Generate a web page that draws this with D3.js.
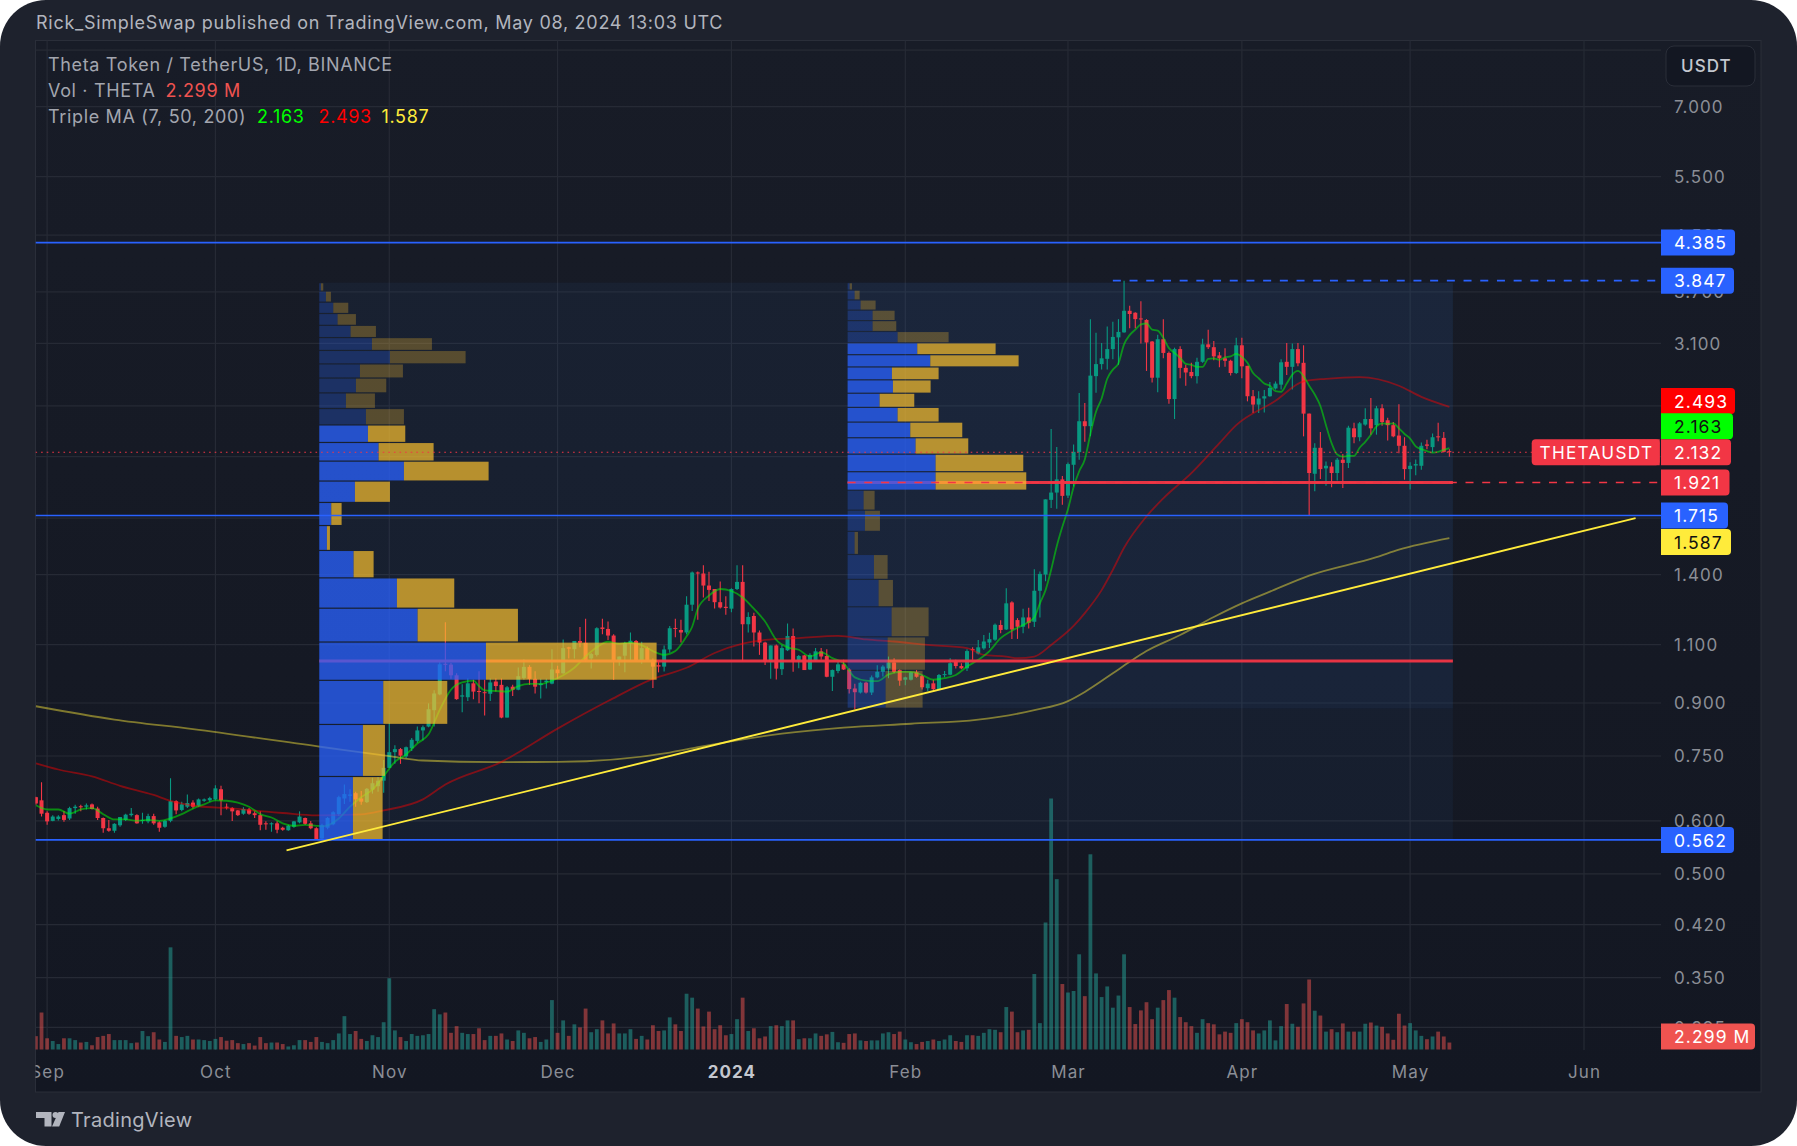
<!DOCTYPE html>
<html>
<head>
<meta charset="utf-8">
<script src="https://cdn.jsdelivr.net/npm/d3@7"></script>
<style>
  html, body { margin: 0; padding: 0; background: #fff; }
  svg { display: block; }
  text { font-family: Inter, "Noto Sans", sans-serif; }
</style>
</head>
<body>
<div id="my_dataviz"></div>
<script>
// Daily candles, first one is Aug 30 2023, last one May 08 2024
const opens = [
  .651,.644,.617,.600,.604,.612,.605,.627,.631,.630,
  .635,.626,.606,.585,.580,.591,.602,.612,.612,.600,
  .599,.610,.597,.588,.600,.642,.623,.630,.639,.632,
  .643,.644,.646,.669,.630,.627,.622,.615,.624,.616,
  .612,.595,.593,.595,.586,.581,.588,.597,.606,.595,
  .585,.565,.586,.593,.614,.648,.654,.660,.648,.640,
  .668,.676,.689,.720,.760,.768,.749,.770,.790,.819,
  .830,.878,.927,1.030,1.027,.990,.920,.918,.963,.938,
  .934,.929,.969,.958,.856,.952,.942,.981,1.019,.978,
  .957,.967,.962,1.010,.997,1.090,1.083,1.114,1.107,1.049,
  1.062,1.167,1.161,1.135,1.043,1.059,1.104,1.114,1.043,1.087,
  1.043,1.025,1.020,1.082,1.165,1.157,1.147,1.262,1.410,1.405,
  1.348,1.332,1.273,1.253,1.245,1.332,1.365,1.180,1.214,1.147,
  1.108,1.036,1.097,1.011,1.079,1.133,1.042,1.060,1.010,1.042,
  1.075,1.058,.985,1.005,1.028,1.010,.946,.933,.965,.933,
  .983,1.002,1.014,1.035,1.008,.975,.975,1.000,.987,.947,
  .963,.944,.991,.992,1.038,1.022,1.014,1.083,1.067,1.086,
  1.108,1.119,1.177,1.159,1.272,1.197,1.170,1.208,1.190,1.324,
  1.400,1.810,1.856,1.942,1.837,2.042,2.133,2.372,2.332,2.770,
  2.887,2.940,3.040,3.165,3.220,3.468,3.445,3.378,3.360,3.120,
  2.755,3.145,3.000,2.560,3.040,2.850,2.810,2.770,2.910,3.090,
  3.060,2.975,2.945,2.920,2.800,3.080,2.870,2.585,2.512,2.565,
  2.585,2.655,2.690,2.910,2.860,3.040,2.900,2.435,1.980,2.165,
  2.017,2.030,1.985,2.078,2.055,2.315,2.245,2.345,2.390,2.340,
  2.480,2.380,2.340,2.258,2.180,2.012,2.037,2.035,2.190,2.170,
  2.252,2.240,2.140];
const highs = [
  .652,.685,.620,.612,.612,.621,.630,.634,.634,.637,
  .637,.630,.607,.602,.595,.608,.615,.627,.614,.617,
  .615,.615,.599,.602,.695,.644,.641,.657,.644,.648,
  .648,.652,.678,.677,.637,.629,.623,.629,.627,.620,
  .620,.599,.597,.599,.588,.592,.600,.620,.607,.600,
  .587,.594,.608,.620,.654,.680,.669,.663,.665,.672,
  .696,.698,.740,.840,.778,.771,.775,.798,.830,.833,
  .899,.940,1.036,1.188,1.033,.997,.960,.979,.975,1.004,
  .975,.979,.979,.979,.954,.958,1.017,1.046,1.025,1.004,
  .978,.978,1.083,1.023,1.120,1.092,1.114,1.169,1.203,1.069,
  1.168,1.203,1.191,1.140,1.056,1.111,1.147,1.118,1.111,1.093,
  1.049,1.036,1.097,1.173,1.203,1.198,1.299,1.415,1.415,1.445,
  1.414,1.332,1.367,1.299,1.336,1.445,1.445,1.230,1.228,1.155,
  1.111,1.097,1.101,1.099,1.183,1.163,1.062,1.062,1.068,1.087,
  1.087,1.083,1.010,1.038,1.044,1.014,.962,.968,.968,.989,
  1.025,1.025,1.056,1.050,1.010,.985,1.002,1.008,.991,.975,
  .975,.994,1.005,1.050,1.044,1.032,1.083,1.090,1.118,1.137,
  1.146,1.183,1.196,1.335,1.277,1.205,1.245,1.249,1.426,1.415,
  1.813,2.310,2.170,1.965,2.058,2.190,2.615,2.525,3.370,3.215,
  3.105,3.285,3.340,3.370,3.847,3.530,3.450,3.585,3.370,3.125,
  3.195,3.370,3.015,3.055,3.070,2.880,2.900,2.950,3.150,3.250,
  3.125,3.010,3.050,2.930,3.160,3.160,2.870,2.640,2.630,2.640,
  2.715,2.720,2.935,3.105,3.100,3.105,3.080,2.435,2.200,2.285,
  2.065,2.060,2.090,2.120,2.335,2.360,2.365,2.480,2.570,2.500,
  2.515,2.400,2.365,2.515,2.245,2.060,2.080,2.205,2.225,2.275,
  2.360,2.285,2.155];
const lows = [
  .634,.609,.592,.599,.601,.598,.602,.615,.620,.624,
  .624,.602,.576,.578,.576,.588,.600,.609,.594,.594,
  .595,.592,.578,.586,.597,.614,.620,.627,.626,.630,
  .641,.641,.644,.612,.624,.600,.610,.613,.613,.606,
  .581,.582,.578,.575,.580,.580,.586,.595,.592,.583,
  .562,.562,.583,.591,.610,.636,.641,.630,.634,.638,
  .659,.663,.661,.720,.730,.730,.744,.763,.785,.791,
  .828,.830,.924,1.004,.978,.910,.872,.906,.912,.899,
  .862,.906,.936,.854,.856,.922,.940,.975,.958,.930,
  .914,.946,.960,.978,.995,1.049,1.049,1.090,1.036,1.013,
  1.056,1.140,1.118,.974,1.023,1.000,1.043,1.040,1.030,1.040,
  .948,1.000,1.003,1.070,1.128,1.108,1.140,1.235,1.198,1.294,
  1.278,1.246,1.246,1.219,1.230,1.328,1.040,1.147,1.093,1.062,
  1.026,.978,.976,.991,1.076,1.002,1.014,1.008,1.008,1.038,
  1.044,.983,.938,.997,1.008,.930,.881,.930,.930,.925,
  .980,.986,.980,.997,.955,.957,.972,.982,.943,.938,
  .940,.943,.983,.990,1.013,1.011,1.005,1.044,1.063,1.081,
  1.087,1.115,1.144,1.157,1.122,1.122,1.144,1.163,1.169,1.208,
  1.368,1.760,1.755,1.780,1.822,1.895,2.078,2.210,2.252,2.617,
  2.833,2.833,2.935,2.880,3.215,3.265,3.265,3.100,2.820,2.710,
  2.620,2.945,2.520,2.390,2.750,2.680,2.750,2.700,2.900,3.040,
  2.925,2.855,2.860,2.775,2.790,2.750,2.540,2.440,2.440,2.445,
  2.580,2.645,2.645,2.780,2.645,2.865,2.252,1.715,1.865,1.945,
  1.900,1.890,1.935,1.885,2.020,2.200,2.215,2.335,2.265,2.265,
  2.335,2.220,2.245,2.125,1.940,1.875,1.970,2.008,2.155,2.130,
  2.215,2.130,2.100];
const closes = [
  .637,.615,.599,.609,.609,.602,.627,.630,.629,.633,
  .625,.606,.585,.580,.594,.608,.613,.615,.595,.602,
  .610,.595,.586,.600,.642,.622,.635,.638,.630,.646,
  .646,.649,.671,.644,.628,.620,.612,.625,.615,.612,
  .592,.593,.595,.582,.582,.590,.599,.609,.594,.585,
  .563,.591,.606,.618,.651,.658,.657,.646,.641,.670,
  .683,.689,.720,.760,.768,.751,.773,.793,.819,.828,
  .881,.930,1.028,1.026,.990,.912,.924,.963,.936,.935,
  .931,.966,.954,.856,.950,.942,.987,1.019,.978,.952,
  .962,.972,1.010,.997,1.087,1.085,1.114,1.107,1.043,1.065,
  1.164,1.161,1.135,1.043,1.056,1.106,1.115,1.043,1.087,1.043,
  1.020,1.020,1.082,1.164,1.161,1.147,1.262,1.410,1.405,1.348,
  1.328,1.273,1.250,1.248,1.332,1.365,1.180,1.210,1.147,1.108,
  1.038,1.097,1.013,1.087,1.133,1.042,1.058,1.008,1.062,1.075,
  1.056,.985,1.008,1.028,1.010,.944,.934,.965,.933,.983,
  1.002,1.020,1.035,1.002,.972,.983,1.000,.985,.950,.962,
  .944,.991,.994,1.032,1.022,1.014,1.076,1.080,1.090,1.112,
  1.121,1.178,1.157,1.268,1.159,1.170,1.208,1.186,1.324,1.403,
  1.813,1.856,1.942,1.835,2.047,2.135,2.372,2.332,2.775,2.887,
  2.945,3.040,3.170,3.225,3.468,3.430,3.370,3.370,3.110,2.755,
  3.145,3.000,2.560,3.040,2.850,2.805,2.770,2.910,3.090,3.060,
  2.965,2.945,2.920,2.800,3.080,2.865,2.585,2.512,2.565,2.585,
  2.660,2.700,2.905,2.860,3.040,2.895,2.435,1.985,2.165,2.012,
  2.035,1.985,2.078,2.055,2.320,2.245,2.355,2.390,2.315,2.480,
  2.365,2.340,2.252,2.180,2.012,2.035,2.047,2.180,2.180,2.245,
  2.245,2.135,2.132];
// volume in millions
const volumes = [
  4.4,12.2,3.7,2.8,1.8,3.7,3.7,3.1,2.3,2.5,
  1.4,4.1,4.5,5.1,3.1,3.1,3.1,2.1,2.3,6.1,
  4.4,5.7,3.3,2.5,33.7,4.5,4.1,4.5,3.3,3.3,
  3.1,2.8,3.5,4.1,2.9,3.1,2.1,1.8,2.1,1.3,
  4.1,2.1,2.3,2.3,1.8,1.0,1.4,3.1,3.1,2.5,
  4.1,2.5,2.1,3.1,5.3,11.0,5.1,6.1,3.5,2.8,
  4.7,4.1,9.0,23.5,6.3,4.1,2.8,5.1,4.5,4.7,
  5.1,13.3,11.6,12.2,5.5,7.7,5.5,5.1,5.1,7.0,
  3.1,4.5,4.5,5.3,3.3,2.8,6.3,5.5,3.7,4.1,
  2.5,3.3,16.3,5.5,9.6,4.5,8.3,7.3,13.5,5.7,
  6.7,9.6,5.3,8.6,5.3,5.3,6.7,3.5,4.5,3.3,
  8.0,6.1,6.3,10.6,8.3,6.1,18.4,17.1,13.5,7.6,
  12.5,6.7,8.0,4.7,5.1,10.0,17.1,6.1,7.0,3.7,
  4.3,7.7,8.0,7.7,9.6,9.6,3.4,3.7,3.7,5.3,
  4.5,5.0,5.8,2.4,2.2,5.1,5.3,3.0,2.8,3.0,
  3.0,5.3,5.7,5.1,5.9,3.3,2.4,1.8,2.5,2.8,
  3.3,2.8,3.3,4.7,2.8,2.5,4.7,4.7,4.5,5.5,
  6.7,6.5,5.7,14.0,12.5,5.7,6.3,6.5,24.9,8.7,
  41.9,82.8,56.2,21.6,18.8,19.3,31.4,17.6,64.4,25.1,
  17.3,20.8,13.8,17.8,31.4,14.0,8.4,12.9,15.6,10.0,
  13.8,16.3,19.6,17.1,10.7,9.0,7.7,5.5,10.0,8.7,
  8.3,5.0,5.9,5.5,8.7,10.0,9.0,6.3,5.3,6.3,
  9.6,3.0,7.7,15.0,8.5,7.5,15.2,23.1,12.8,11.2,
  5.9,6.7,5.7,8.6,5.9,5.9,5.9,8.5,8.9,7.9,
  7.5,5.3,3.2,11.8,7.9,8.7,6.3,4.5,3.4,4.3,
  5.9,4.3,2.299];

// Moving averages, days counted from Oct 01 2023
const ma7Days = [-32,-30,-28,-26,-24,-22,-20,-18,-16,-14,-12,-10,-8,-6,-4,-2,0,2,4,6,8,10,12,14,16,18,19,20,22,24,26,28,30,32,34,36,38,40,42,44,46,47,48,50,52,54,56,58,60,62,64,66,68,70,72,74,76,78,80,82,84,85,86,88,90,92,94,96,98,100,102,104,106,108,110,112,114,116,118,120,122,124,126,128,130,132,134,136,138,140,142,144,146,147,148,149,150,151,152,153,154,155,156,157,158,159,160,161,162,163,164,165,166,167,168,169,170,171,172,173,174,175,176,177,178,179,180,181,182,183,184,185,186,187,188,189,190,191,192,193,194,195,196,197,198,199,200,201,202,203,204,205,206,207,208,209,210,211,212,213,214,215,216,217,218,219,220];
const ma7Values = [.633,.624,.624,.615,.624,.627,.614,.603,.603,.600,.602,.600,.605,.614,.626,.635,.644,.643,.639,.630,.614,.607,.595,.590,.592,.590,.589,.591,.605,.630,.651,.668,.700,.735,.754,.783,.808,.879,.942,.966,.972,.954,.940,.938,.936,.954,.961,.961,.972,.990,1.016,1.056,1.090,1.111,1.103,1.108,1.098,1.076,1.062,1.076,1.132,1.170,1.245,1.302,1.332,1.323,1.294,1.245,1.191,1.118,1.090,1.081,1.056,1.071,1.050,1.032,.983,.972,.970,.993,1.002,1.002,.991,.975,.980,.991,1.020,1.044,1.076,1.125,1.154,1.177,1.208,1.268,1.327,1.423,1.543,1.650,1.753,1.890,1.997,2.080,2.270,2.450,2.565,2.745,2.833,2.895,3.090,3.190,3.250,3.310,3.320,3.250,3.240,3.160,3.050,3.000,2.950,2.890,2.880,2.860,2.860,2.940,2.945,2.930,2.955,2.965,2.990,2.960,2.900,2.800,2.750,2.700,2.680,2.630,2.625,2.700,2.785,2.820,2.770,2.680,2.600,2.500,2.340,2.200,2.115,2.100,2.105,2.105,2.165,2.210,2.265,2.330,2.355,2.350,2.355,2.315,2.270,2.235,2.175,2.155,2.140,2.130,2.135,2.150,2.163];
const ma50Days = [-32,-28,-22,-17,-11,-8,-3,3,7,12,18,26,30,37,41,51,61,70,78,84,89,94,98,104,111,116,121,127,134,137,141,143,146,149,153,155,158,160,162,166,169,174,179,182,189,194,198,204,211,215,220];
const ma50Values = [.7315,.716,.6995,.677,.656,.6428,.631,.6265,.6215,.6165,.6115,.6135,.622,.646,.680,.735,.824,.906,.978,1.016,1.069,1.104,1.118,1.125,1.134,1.120,1.112,1.099,1.087,1.062,1.056,1.050,1.056,1.099,1.173,1.226,1.327,1.423,1.535,1.710,1.820,1.985,2.200,2.340,2.545,2.720,2.745,2.760,2.680,2.580,2.493];
const ma200Days = [-32,-18,-4,19,31,37,50,61,81,86,101,112,124,136,146,152,155,160,163,166,172,178,183,188,195,207,211,220];
const ma200Values = [.890,.850,.8225,.7736,.7495,.7385,.7345,.735,.759,.773,.810,.827,.838,.850,.878,.906,.935,.997,1.037,1.076,1.137,1.210,1.268,1.320,1.395,1.486,1.525,1.587];

// Visible range volume profiles: row edges (price) and up/down volume per row
const profile1Edges = [3.82,3.710,3.573,3.436,3.299,3.163,3.026,2.889,2.752,2.615,2.478,2.342,2.205,2.068,1.931,1.794,1.657,1.521,1.384,1.247,1.110,.973,.836,.699,.562];
const profile1Up = [5,20,42,55,94,158,212,122,110,80,140,146,178,254,107,36,23,103,233,295,500,192,131,101];
const profile1Down = [7,15,45,55,76,180,227,129,91,87,114,112,165,254,105,31,9,60,172,301,512,192,66,89];
const profile2Edges = [3.82,3.724,3.600,3.476,3.353,3.230,3.106,2.982,2.859,2.735,2.612,2.488,2.365,2.241,2.118,1.994,1.871,1.747,1.624,1.500,1.377,1.253,1.130,1.007,.884];
const profile2Up = [6,21,39,75,75,150,209,248,133,136,96,150,188,204,264,264,48,52,21,79,93,132,120,114];
const profile2Down = [7,15,45,66,71,153,235,265,140,113,104,123,156,158,263,272,33,45,10,41,43,111,112,111];

const gridPrices = [8.5,7,5.5,4.5,3.7,3.1,2.5,2.1,1.7,1.4,1.1,.9,.75,.6,.5,.42,.35,.295];
const priceTicks = [7,5.5,4.5,3.7,3.1,1.4,1.1,.9,.75,.6,.5,.42,.35,.295];
const monthTicks = ["2023-09-01","2023-10-01","2023-11-01","2023-12-01","2024-01-01","2024-02-01","2024-03-01","2024-04-01","2024-05-01","2024-06-01"];
const monthLabels = ["Sep","Oct","Nov","Dec","2024","Feb","Mar","Apr","May","Jun"];

const blueLevels = [4.385,1.715,.562];
const pocPrices = [1.04,1.921];
const lastPrice = 2.132;
const targetPrice = 3.847;
const trendPrices = [.542,1.70];
const trendDays = [12.68,253.2];

const priceLabels = ["4.385","3.847","2.493","2.163","2.132","1.921","1.715","1.587","0.562"];
const labelValues = [4.385,3.847,2.493,2.163,2.132,1.921,1.715,1.587,.562];

// Layout
const W = 1797, H = 1146;
const plot = {left: 35.5, right: 1761, top: 40.5, bottom: 1092, scale: 1661, pane: 1050};

const svg = d3.select("#my_dataviz").append("svg")
  .attr("width", W).attr("height", H);
const defs = svg.append("defs");
const grad = defs.append("linearGradient").attr("id", "bg").attr("x1", 0).attr("x2", 0).attr("y1", 0).attr("y2", 1);
grad.append("stop").attr("offset", 0).attr("stop-color", "#181c27");
grad.append("stop").attr("offset", 1).attr("stop-color", "#131722");
defs.append("clipPath").attr("id", "pane").append("rect")
  .attr("x", plot.left).attr("y", plot.top).attr("width", plot.scale - plot.left).attr("height", plot.pane - plot.top);
defs.append("clipPath").attr("id", "frame").append("rect")
  .attr("x", plot.left).attr("y", plot.top).attr("width", plot.right - plot.left).attr("height", plot.bottom - plot.top);

svg.append("rect").attr("width", W).attr("height", H).attr("rx", 46).attr("fill", "#1e222d");
svg.append("rect").attr("x", plot.left).attr("y", plot.top)
  .attr("width", plot.right - plot.left).attr("height", plot.bottom - plot.top)
  .attr("fill", "url(#bg)").attr("stroke", "#2a2e39");

// Scales
const oct1 = new Date(Date.UTC(2023, 9, 1));
const day = n => new Date(oct1.getTime() + n * 864e5);
const x = d3.scaleUtc().domain([oct1, new Date(Date.UTC(2024, 5, 1))]).range([215.4, 1584]);
const y = d3.scaleLog().domain([7, .35]).range([106.6, 977.6]);
const yVol = d3.scaleLinear().domain([0, 82.8]).range([1049.5, 798.5]);
const xProfile = d3.scaleLinear().domain([0, 3]).range([0, 1]);
const firstDay = -32;

const candles = opens.map((o, i) => ({
  date: day(firstDay + i), o, h: highs[i], l: lows[i], c: closes[i], v: volumes[i], up: closes[i] >= o
}));

// Grid
const pane = svg.append("g").attr("clip-path", "url(#pane)");
const gridColor = "#262a35";
pane.append("g").selectAll("line").data(gridPrices).join("line")
  .attr("x1", plot.left).attr("x2", plot.scale)
  .attr("y1", d => y(d)).attr("y2", d => y(d))
  .attr("stroke", gridColor).attr("stroke-width", 1.2);
pane.append("g").selectAll("line").data(monthTicks).join("line")
  .attr("x1", d => x(new Date(d))).attr("x2", d => x(new Date(d)))
  .attr("y1", plot.top).attr("y2", plot.pane)
  .attr("stroke", gridColor).attr("stroke-width", 1.2);

// Profile backgrounds
const rangeEnd = x(day(220)) + 3.5;
const profileStart1 = x(day(19)) - 2.7;
const profileStart2 = x(day(112)) + 4;
pane.append("rect").attr("x", profileStart1).attr("width", rangeEnd - profileStart1)
  .attr("y", y(3.82)).attr("height", y(.562) - y(3.82))
  .attr("fill", "#3c78c8").attr("fill-opacity", .07);
pane.append("rect").attr("x", profileStart2).attr("width", rangeEnd - profileStart2)
  .attr("y", y(3.82)).attr("height", y(.884) - y(3.82))
  .attr("fill", "#3c78c8").attr("fill-opacity", .07);

// Volume
const barW = 3.8;
pane.append("g").selectAll("rect").data(candles).join("rect")
  .attr("x", d => x(d.date) - barW / 2).attr("width", barW)
  .attr("y", d => yVol(d.v)).attr("height", d => yVol(0) - yVol(d.v))
  .attr("fill", d => d.up ? "#26a69a" : "#ef5350").attr("fill-opacity", .5);

// Candles
const candleColor = d => d.up ? "#089981" : "#f23645";
const g = pane.append("g");
g.selectAll("line").data(candles).join("line")
  .attr("x1", d => x(d.date)).attr("x2", d => x(d.date))
  .attr("y1", d => y(d.h)).attr("y2", d => y(d.l))
  .attr("stroke", candleColor).attr("stroke-width", 1.1);
g.selectAll("rect").data(candles).join("rect")
  .attr("x", d => x(d.date) - 2).attr("width", 4)
  .attr("y", d => y(Math.max(d.o, d.c)))
  .attr("height", d => Math.max(1, Math.abs(y(d.o) - y(d.c))))
  .attr("fill", candleColor);

// Moving averages
const maLine = d3.line().x(d => x(day(d[0]))).y(d => y(d[1])).curve(d3.curveMonotoneX);
[[ma200Days, ma200Values, "#ffeb3b", .46],
 [ma50Days, ma50Values, "#ff0000", .45],
 [ma7Days, ma7Values, "#00ff00", .5]].forEach(([days, vals, color, op]) => {
  pane.append("path").attr("d", maLine(days.map((d, i) => [d, vals[i]])))
    .attr("fill", "none").attr("stroke", color).attr("stroke-opacity", op).attr("stroke-width", 1.8);
});

// POC lines sit under the profile bars
pane.append("g").selectAll("line").data(pocPrices).join("line")
  .attr("x1", (d, i) => i ? profileStart2 : profileStart1).attr("x2", rangeEnd)
  .attr("y1", d => y(d)).attr("y2", d => y(d))
  .attr("stroke", "#f23645").attr("stroke-width", 3).attr("stroke-opacity", .95);

// Volume profile bars
function drawProfile(edges, up, down, start, vaFrom, vaTo) {
  const rows = up.map((u, i) => ({top: edges[i], bottom: edges[i + 1], u, d: down[i], va: i >= vaFrom && i <= vaTo}));
  const p = pane.append("g");
  p.selectAll(".up").data(rows).join("rect").attr("class", "up")
    .attr("x", start).attr("width", d => xProfile(d.u))
    .attr("y", d => y(d.top) + .6).attr("height", d => y(d.bottom) - y(d.top) - 1.2)
    .attr("fill", "#2962ff").attr("fill-opacity", d => d.va ? .75 : .25);
  p.selectAll(".down").data(rows).join("rect").attr("class", "down")
    .attr("x", d => start + xProfile(d.u)).attr("width", d => xProfile(d.d))
    .attr("y", d => y(d.top) + .6).attr("height", d => y(d.bottom) - y(d.top) - 1.2)
    .attr("fill", "#fbc02d").attr("fill-opacity", d => d.va ? .7 : .28);
}
drawProfile(profile1Edges, profile1Up, profile1Down, profileStart1, 11, 23);
drawProfile(profile2Edges, profile2Up, profile2Down, profileStart2, 6, 15);

// Horizontal levels
pane.append("g").selectAll("line").data(blueLevels).join("line")
  .attr("x1", plot.left).attr("x2", plot.scale)
  .attr("y1", d => y(d)).attr("y2", d => y(d))
  .attr("stroke", "#2962ff").attr("stroke-width", 1.6);
pane.append("line").attr("x1", x(day(160))).attr("x2", plot.scale)
  .attr("y1", y(targetPrice)).attr("y2", y(targetPrice))
  .attr("stroke", "#2962ff").attr("stroke-width", 1.6).attr("stroke-dasharray", "8 8.7");
pane.append("line").attr("x1", plot.left).attr("x2", 1532)
  .attr("y1", y(lastPrice)).attr("y2", y(lastPrice))
  .attr("stroke", "#f23645").attr("stroke-width", 1.2).attr("stroke-dasharray", "1.6 4");
pane.append("line").attr("x1", profileStart2).attr("x2", plot.scale)
  .attr("y1", y(pocPrices[1])).attr("y2", y(pocPrices[1]))
  .attr("stroke", "#f23645").attr("stroke-width", 1.4).attr("stroke-dasharray", "8 8.7");

// Trend line
pane.append("line")
  .attr("x1", x(day(trendDays[0]))).attr("y1", y(trendPrices[0]))
  .attr("x2", x(day(trendDays[1]))).attr("y2", y(trendPrices[1]))
  .attr("stroke", "#ffeb3b").attr("stroke-width", 1.9);

// Axes
const tickFont = sel => sel.attr("fill", "#8b8e96").style("font-size", "17px").style("letter-spacing", "1.1px")
  .style("font-family", "Inter, sans-serif");
const yAxis = svg.append("g").attr("transform", `translate(${plot.scale},.5)`)
  .call(d3.axisRight(y).tickValues(priceTicks).tickFormat(d3.format(".3f")).tickSize(0).tickPadding(13));
yAxis.select(".domain").remove();
yAxis.selectAll("text").call(tickFont);

const xAxis = svg.append("g").attr("clip-path", "url(#frame)").append("g")
  .attr("transform", `translate(0,${plot.pane})`)
  .call(d3.axisBottom(x).tickValues(monthTicks.map(d => new Date(d)))
    .tickFormat((d, i) => monthLabels[i]).tickSize(0).tickPadding(16));
xAxis.select(".domain").remove();
xAxis.selectAll("text").call(tickFont)
  .filter((d, i) => monthLabels[i] === "2024").attr("fill", "#c4c7cf").style("font-weight", 700);

// Price labels, nudged the way the chart stacks them
const labelStyle = {
  "4.385": {fill: "#2962ff", text: "#fff", w: 74, dy: 0},
  "3.847": {fill: "#2962ff", text: "#fff", w: 73, dy: 0},
  "2.493": {fill: "#ff0000", text: "#fff", w: 74, dy: -5.7},
  "2.163": {fill: "#00ff00", text: "#111", w: 72, dy: -21.8},
  "2.132": {fill: "#f23645", text: "#fff", w: 70, dy: 0},
  "1.921": {fill: "#f23645", text: "#fff", w: 68.5, dy: 0},
  "1.715": {fill: "#2962ff", text: "#fff", w: 67, dy: 0},
  "1.587": {fill: "#ffeb3b", text: "#111", w: 70, dy: 4},
  "0.562": {fill: "#2962ff", text: "#fff", w: 73, dy: 0}
};
const labelH = 26;
function tag(px, py, w, fill, text, color, tx) {
  const r = 4;
  svg.append("path")
    .attr("d", `M${px},${py - labelH / 2}h${w - r}q${r},0 ${r},${r}v${labelH - 2 * r}q0,${r} ${-r},${r}h${-(w - r)}z`)
    .attr("fill", fill);
  svg.append("text").attr("x", tx).attr("y", py + .4).attr("dy", ".36em")
    .attr("fill", color).style("font-size", "17.5px").style("letter-spacing", "1.1px").text(text);
}
priceLabels.forEach((t, i) => {
  const s = labelStyle[t];
  tag(plot.scale, y(labelValues[i]) + s.dy, s.w, s.fill, t, s.text, 1674);
});
tag(plot.scale, 1036.6, 94, "#ef5350", "2.299 M", "#fff", 1674);

// THETAUSDT tag rounded on the left
svg.append("rect").attr("x", 1531.7).attr("y", y(lastPrice) - labelH / 2).attr("width", 128).attr("height", labelH)
  .attr("rx", 4).attr("fill", "#f23645");
svg.append("rect").attr("x", 1600).attr("y", y(lastPrice) - labelH / 2).attr("width", 59.7).attr("height", labelH)
  .attr("fill", "#f23645");
svg.append("text").attr("x", 1539.5).attr("y", y(lastPrice) + .4).attr("dy", ".36em")
  .attr("fill", "#fff").style("font-size", "17.2px").style("letter-spacing", "1.3px").text("THETAUSDT");

// USDT button
svg.append("rect").attr("x", 1666).attr("y", 46).attr("width", 89).attr("height", 40).attr("rx", 8)
  .attr("fill", "#131722").attr("stroke", "#2a2e39");
svg.append("text").attr("x", 1681).attr("y", 66).attr("dy", ".36em").attr("fill", "#c4c7cf")
  .style("font-size", "17px").style("font-weight", 500).style("letter-spacing", "1.1px").text("USDT");

// Header and legend
svg.append("text").attr("x", 36).attr("y", 23).attr("dy", ".36em").attr("fill", "#b2b5be")
  .style("font-size", "18px").style("letter-spacing", ".72px")
  .text("Rick_SimpleSwap published on TradingView.com, May 08, 2024 13:03 UTC");
const legendText = (tx, ty, color, t) => svg.append("text").attr("x", tx).attr("y", ty).attr("dy", ".36em")
  .attr("fill", color).style("font-size", "18px").style("letter-spacing", ".66px").text(t);
legendText(48, 64.5, "#a3a6af", "Theta Token / TetherUS, 1D, BINANCE");
legendText(48, 90.3, "#a3a6af", "Vol · THETA");
legendText(165.5, 90.3, "#ef5350", "2.299 M");
legendText(48, 116.5, "#a3a6af", "Triple MA (7, 50, 200)");
legendText(257, 116.5, "#00ff00", "2.163");
legendText(318.5, 116.5, "#ff0000", "2.493");
legendText(381.5, 116.5, "#ffeb3b", "1.587");

// TradingView logo
const logo = svg.append("g").attr("fill", "#b2b5be");
logo.append("path").attr("d", "M36,1112h15.5v14.5h-7v-8.5h-8.5z");
logo.append("circle").attr("cx", 55.5).attr("cy", 1115).attr("r", 3);
logo.append("path").attr("d", "M58.5,1112h6.5l-5.8,14.5h-7.2z");
svg.append("text").attr("x", 71).attr("y", 1120).attr("dy", ".36em").attr("fill", "#b2b5be")
  .style("font-size", "20px").style("letter-spacing", ".3px").text("TradingView");
</script>
</body>
</html>
